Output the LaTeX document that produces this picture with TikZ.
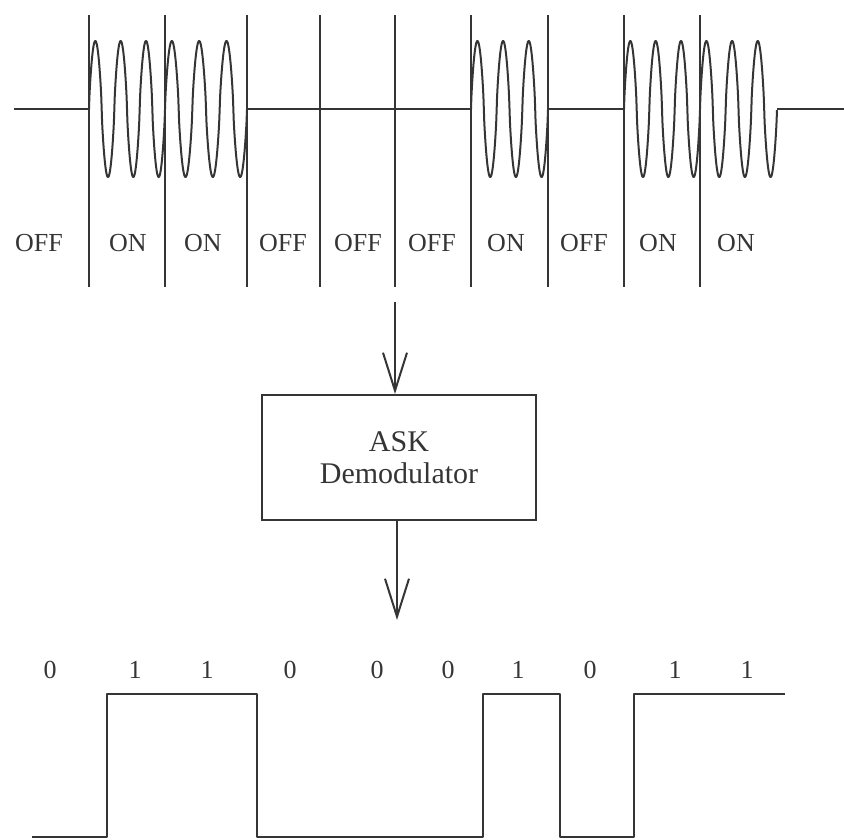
\documentclass[tikz,border=0pt]{standalone}
\usepackage{fontspec}
\setmainfont{Liberation Serif}
\usetikzlibrary{arrows.meta}
\definecolor{ink}{HTML}{353535}
\begin{document}
\begin{tikzpicture}[x=1pt,y=-1pt,
  wave/.style={draw=ink, line width=2pt, line join=round},
  divider/.style={draw=ink, line width=2pt},
  lbl/.style={text=ink, font=\fontsize{26}{26}\selectfont, anchor=base, inner sep=0pt},
  box/.style={draw=ink, line width=2pt, text=ink, minimum width=274pt, minimum height=125pt,
              align=center, inner sep=0pt, font=\fontsize{30}{32}\selectfont},
  arr/.style={draw=ink, line width=2pt, -{Straight Barb[length=38pt,width=24pt]}}]
\useasboundingbox (0,0) rectangle (844,839);

% carrier shape: a slightly squared sine
\tikzset{declare function={fs(\t)=ifthenelse(sin(360*\t)<0,-1,1)*(abs(sin(360*\t))+0.0001)^0.75;}}

% modulated carrier
\draw[wave] (14,109) -- (89,109);
\draw[wave] plot[domain=0:3, samples=181, smooth] ({89+76/3*\x},{109-68*fs(\x)});
\draw[wave] plot[domain=0:3, samples=181, smooth] ({165+82/3*\x},{109-68*fs(\x)});
\draw[wave] (247,109) -- (471,109);
\draw[wave] plot[domain=0:3, samples=181, smooth] ({471+77/3*\x},{109-68*fs(\x)});
\draw[wave] (548,109) -- (624,109);
\draw[wave] plot[domain=0:3, samples=181, smooth] ({624+76/3*\x},{109-68*fs(\x)});
\draw[wave] plot[domain=0:3, samples=181, smooth] ({700+77/3*\x},{109-68*fs(\x)});
\draw[wave] (777,109) -- (844,109);

\foreach \xx in {89,165,247,320,395,471,548,624,700}
  \draw[divider] (\xx,15) -- (\xx,287);

% state labels
\node[lbl] (s1) at (39,251) {OFF};
\node[lbl] (s2) at (128,251) {ON};
\node[lbl] (s3) at (203,251) {ON};
\node[lbl] (s4) at (283,251) {OFF};
\node[lbl] (s5) at (358,251) {OFF};
\node[lbl] (s6) at (432,251) {OFF};
\node[lbl] (s7) at (506,251) {ON};
\node[lbl] (s8) at (584,251) {OFF};
\node[lbl] (s9) at (658,251) {ON};
\node[lbl] (s10) at (736,251) {ON};

% demodulator
\node[box] (demod) at (399,457.5) {ASK\\Demodulator};
\coordinate (a1) at (395,302);
\coordinate (a2) at (397,620);
\draw[arr] (a1) -- (a1 |- demod.north);
\draw[arr] (a2 |- demod.south) -- (a2);

% bit labels
\node[lbl] (b1) at (50,678) {0};
\node[lbl] (b2) at (135,678) {1};
\node[lbl] (b3) at (207,678) {1};
\node[lbl] (b4) at (290,678) {0};
\node[lbl] (b5) at (377,678) {0};
\node[lbl] (b6) at (448,678) {0};
\node[lbl] (b7) at (518,678) {1};
\node[lbl] (b8) at (590,678) {0};
\node[lbl] (b9) at (675,678) {1};
\node[lbl] (b10) at (747,678) {1};

% demodulated data
\draw[wave] (32,837) -- (107,837) -- (107,694) -- (257,694) -- (257,837) -- (483,837)
  -- (483,694) -- (560,694) -- (560,837) -- (634,837) -- (634,694) -- (785,694);
\end{tikzpicture}
\end{document}
